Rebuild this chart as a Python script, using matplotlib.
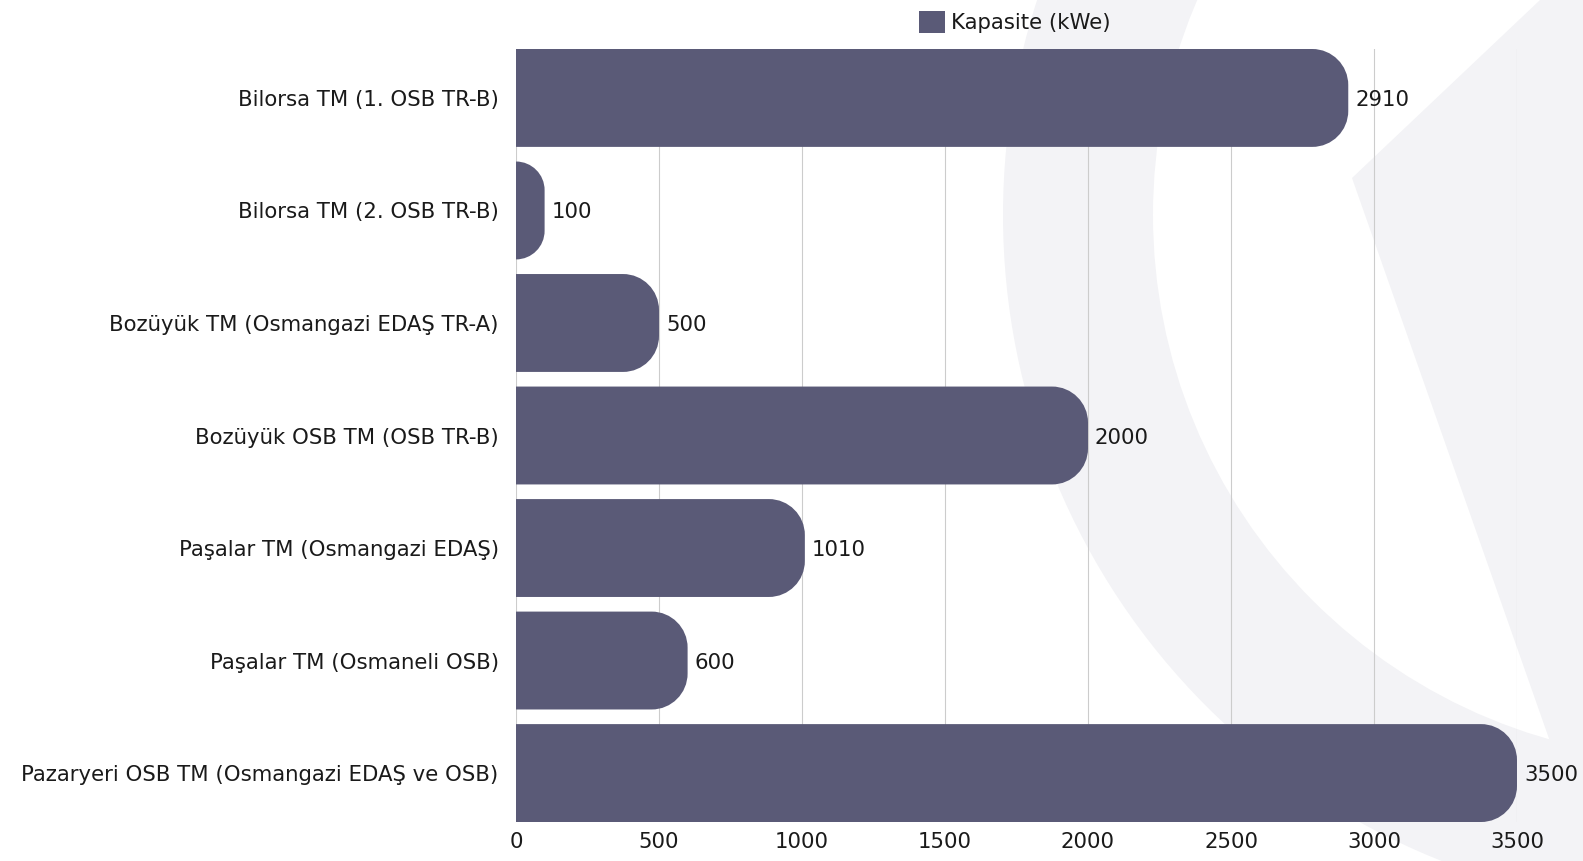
import matplotlib
matplotlib.use("Agg")
import matplotlib.pyplot as plt
from matplotlib.path import Path
from matplotlib.patches import PathPatch, Circle, Polygon, Patch

categories = [
    "Bilorsa TM (1. OSB TR-B)",
    "Bilorsa TM (2. OSB TR-B)",
    "Bozüyük TM (Osmangazi EDAŞ TR-A)",
    "Bozüyük OSB TM (OSB TR-B)",
    "Paşalar TM (Osmangazi EDAŞ)",
    "Paşalar TM (Osmaneli OSB)",
    "Pazaryeri OSB TM (Osmangazi EDAŞ ve OSB)",
]
capacity = [2910, 100, 500, 2000, 1010, 600, 3500]
series_name = "Kapasite (kWe)"
xticks = [0, 500, 1000, 1500, 2000, 2500, 3000, 3500]

bar_color = "#5a5a77"
text_color = "#1a1a1a"
mark_color = "#f3f3f6"
fsize = 15.3

plt.rcParams['font.family'] = ['DejaVu Sans']

W, H = 1583, 861
fig = plt.figure(figsize=(W / 100, H / 100), dpi=100)
fig.patch.set_facecolor("white")

# faint logo watermark in the background (pixel coords -> inches)
def px(x, y):
    return (x / 100, (H - y) / 100)

tr = fig.dpi_scale_trans
fig.patches.append(Circle(px(1698, 215), 6.95, transform=tr, facecolor=mark_color,
                          edgecolor="none", zorder=-10))
fig.patches.append(Circle(px(1698, 215), 5.45, transform=tr, facecolor="white",
                          edgecolor="none", zorder=-9))
fig.patches.append(Polygon([px(1540, 0), px(1352, 178), px(1592, 861), px(1700, 861), px(1700, 0)],
                           closed=True, transform=tr, facecolor=mark_color,
                           edgecolor="none", zorder=-8))

ax = fig.add_axes([516 / W, 1 - 822 / H, (1517 - 516) / W, (822 - 49) / H])
ax.set_facecolor("none")

bar_h = 0.87
xmax = 3500
ax.set_xlim(0, xmax)
ax.set_ylim(len(categories) - 1 + bar_h / 2, -bar_h / 2)

# corner radius ~36 px converted to data units
px_x = (1517 - 516) / xmax
px_y = (822 - 49) / (len(categories) - 1 + bar_h)
rad = 36
k = 0.5523

for i, v in enumerate(capacity):
    rx = rad / px_x
    ry = rad / px_y
    s = min(1.0, v / rx)
    rx *= s
    ry *= s
    y0, y1 = i - bar_h / 2, i + bar_h / 2
    verts = [(0, y0), (v - rx, y0),
             (v - rx + k * rx, y0), (v, y0 + ry - k * ry), (v, y0 + ry),
             (v, y1 - ry),
             (v, y1 - ry + k * ry), (v - rx + k * rx, y1), (v - rx, y1),
             (0, y1), (0, y0)]
    codes = [Path.MOVETO, Path.LINETO,
             Path.CURVE4, Path.CURVE4, Path.CURVE4,
             Path.LINETO,
             Path.CURVE4, Path.CURVE4, Path.CURVE4,
             Path.LINETO, Path.CLOSEPOLY]
    ax.add_patch(PathPatch(Path(verts, codes), facecolor=bar_color, edgecolor="none",
                           zorder=3, clip_on=False))
    ax.annotate(str(v), (v, i), xytext=(5, 0), textcoords="offset points",
                va="center_baseline", ha="left", fontsize=fsize, color=text_color, zorder=4)

ax.set_yticks(range(len(categories)))
ax.set_yticklabels(categories)
ax.set_xticks(xticks)
ax.set_xticklabels([str(t) for t in xticks])
ax.tick_params(axis="both", length=0, labelsize=fsize, labelcolor=text_color)
ax.tick_params(axis="y", pad=12.5)
ax.tick_params(axis="x", pad=7)

ax.grid(axis="x", color="#cccccc", linewidth=0.8, zorder=1)
ax.set_axisbelow(True)
for sp in ax.spines.values():
    sp.set_visible(False)

fig.legend(handles=[Patch(facecolor=bar_color, edgecolor="none")], labels=[series_name],
           loc="center", bbox_to_anchor=(1015 / W, 1 - 22 / H), frameon=False,
           fontsize=fsize, handlelength=1.2, handleheight=1.2, handletextpad=0.3,
           labelcolor=text_color)

fig.savefig("out.png", dpi=100)
